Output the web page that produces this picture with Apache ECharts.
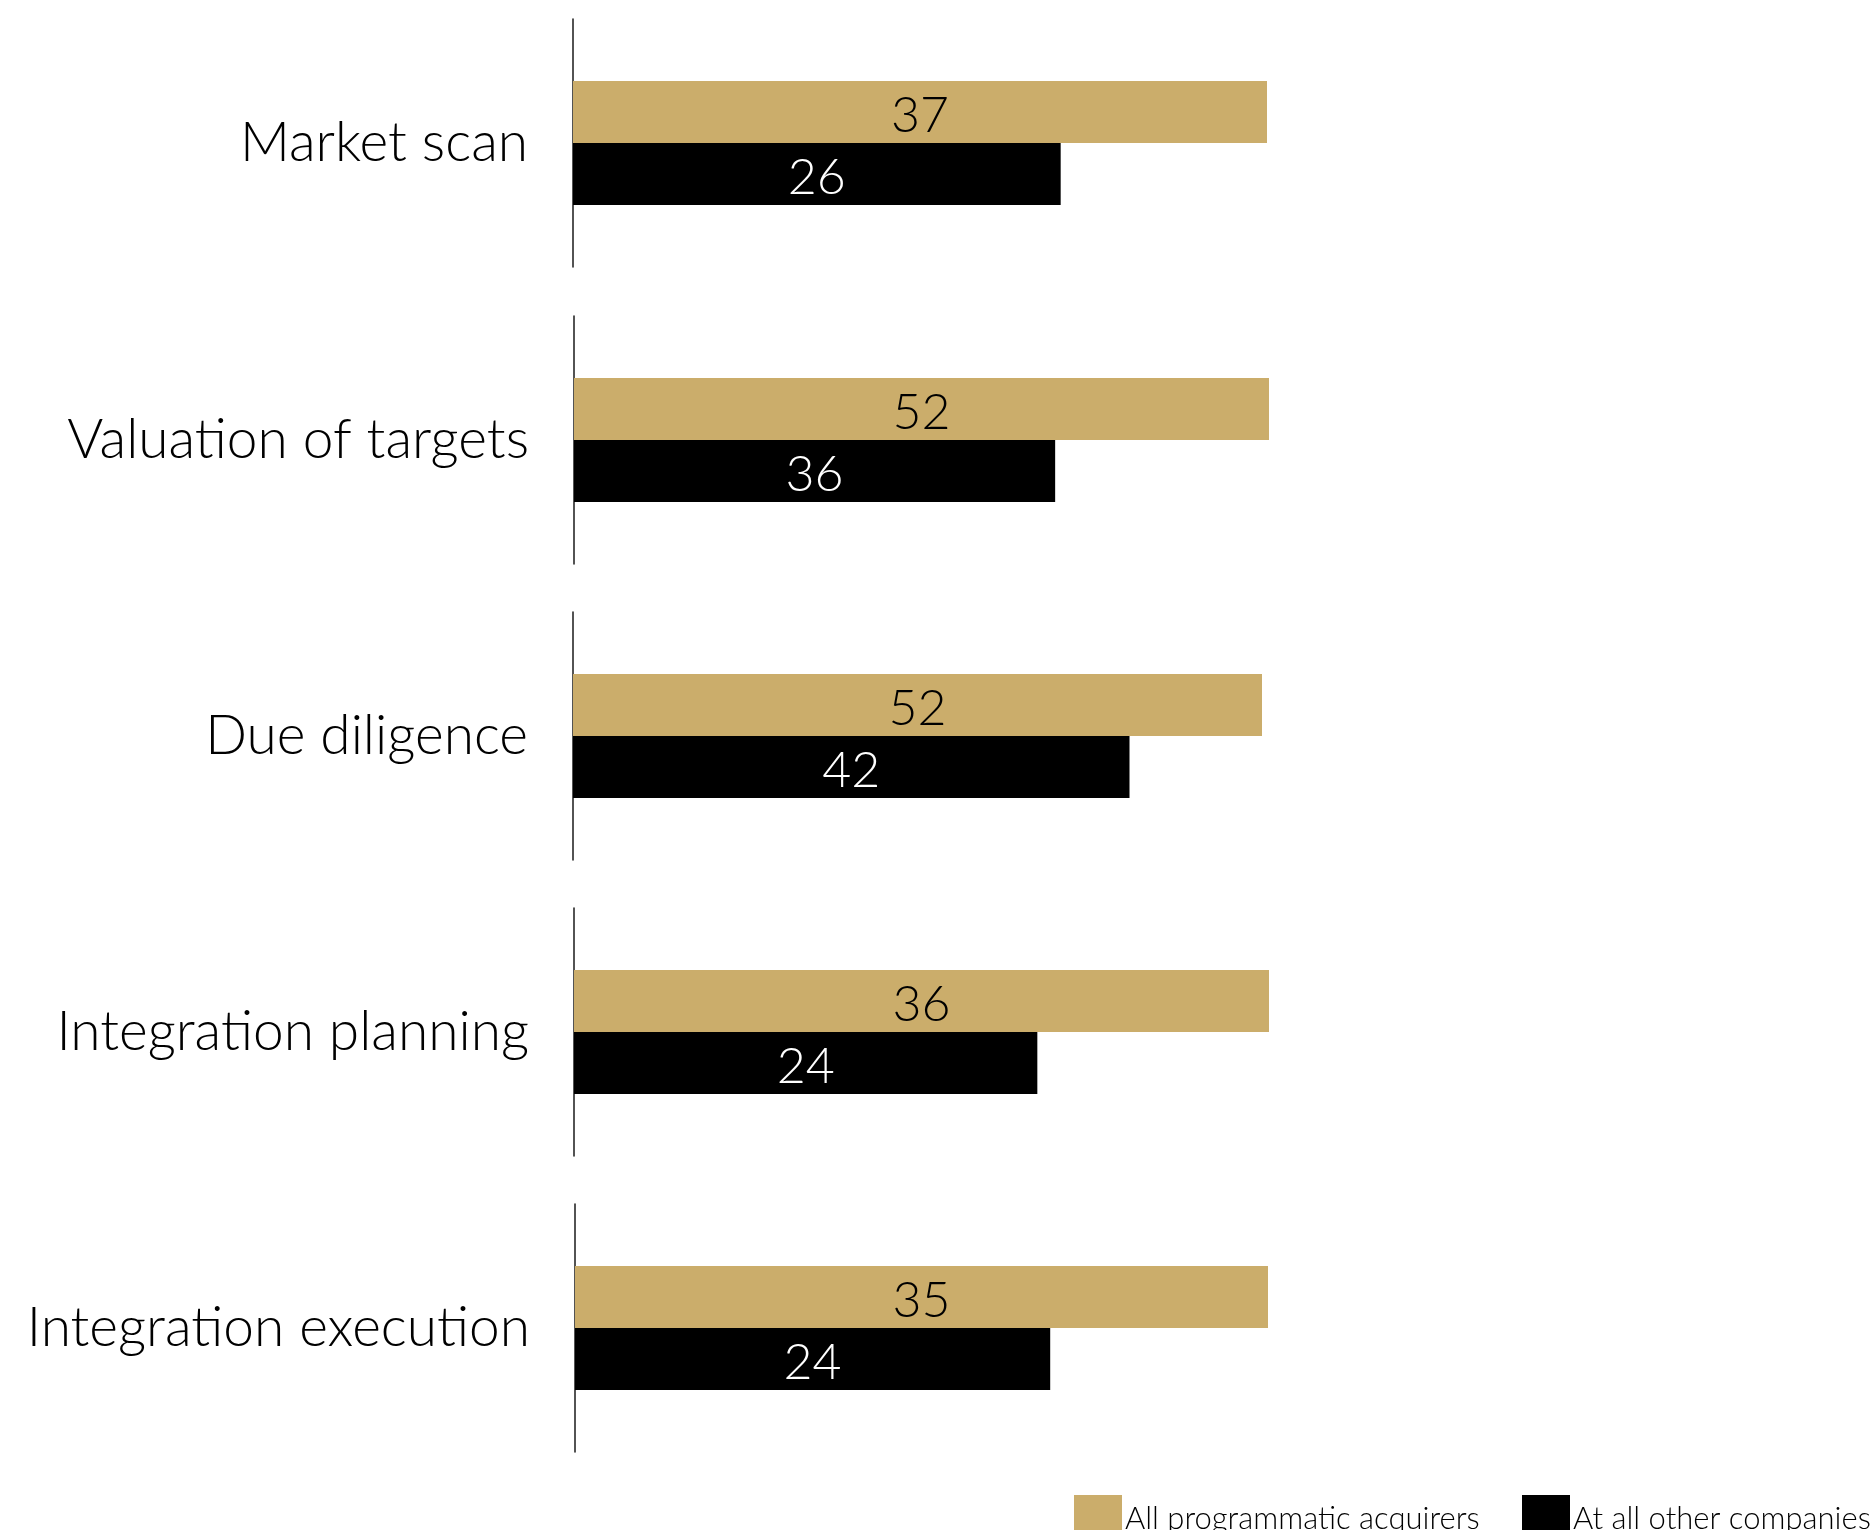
<!DOCTYPE html>
<html>
<head>
<meta charset="utf-8">
<script src="https://cdn.jsdelivr.net/npm/echarts@6/dist/echarts.min.js"></script>
<style>
  html, body { margin: 0; padding: 0; background: #fff; }
  #chart { width: 1870px; height: 1530px; }
</style>
</head>
<body>
<div id="chart"></div>
<script>
// M&A capability ratings: programmatic acquirers vs. all other companies
const categories = ['Market scan', 'Valuation of targets', 'Due diligence', 'Integration planning', 'Integration execution'];
const programmatic = [37, 52, 52, 36, 35];
const otherCompanies = [26, 36, 42, 24, 24];
const seriesNames = ['All programmatic acquirers', 'At all other companies'];

const GOLD = '#CBAD6B';
const BLACK = '#000000';
const FONT = 'Lato, "Open Sans", sans-serif';
const WEIGHT = 300;

// One small panel per capability; each panel's scale runs to the programmatic value
const panels = [
  { top: 19,  left: 573, width: 694 },
  { top: 316, left: 574, width: 695 },
  { top: 612, left: 573, width: 689 },
  { top: 908, left: 574, width: 695 },
  { top: 1204, left: 575, width: 693 }
];

const valueLabel = (color) => ({
  show: true, position: 'inside', color: color, fontSize: 50,
  fontWeight: WEIGHT, fontFamily: FONT, offset: [0, 4]
});

const grid = [], xAxis = [], yAxis = [], series = [];
categories.forEach((cat, i) => {
  const p = panels[i];
  grid.push({ left: p.left, top: p.top, width: p.width, height: 248, containLabel: false });
  xAxis.push({
    type: 'value', gridIndex: i, min: 0, max: programmatic[i], show: false
  });
  yAxis.push({
    type: 'category', gridIndex: i, data: [cat], inverse: true,
    axisLine: { show: true, lineStyle: { color: '#1a1a1a', width: 1.5 } },
    axisTick: { show: false },
    splitLine: { show: false },
    axisLabel: { color: '#000', fontSize: 55, fontWeight: WEIGHT, fontFamily: FONT, margin: 45 }
  });
  series.push({
    name: seriesNames[0], type: 'bar', xAxisIndex: i, yAxisIndex: i,
    data: [programmatic[i]], barWidth: 62, barGap: '0%',
    itemStyle: { color: GOLD },
    label: valueLabel('#000'),
    animation: false
  });
  series.push({
    name: seriesNames[1], type: 'bar', xAxisIndex: i, yAxisIndex: i,
    data: [otherCompanies[i]], barWidth: 62, barGap: '0%',
    itemStyle: { color: BLACK },
    label: valueLabel('#fff'),
    animation: false
  });
});

// Legend entries sit side by side at the bottom edge
const legendBase = {
  top: 1495, icon: 'rect', itemWidth: 48, itemHeight: 48, padding: 0,
  textStyle: { color: '#000', fontSize: 31, fontWeight: WEIGHT, fontFamily: FONT, padding: [4, 0, 0, -2] }
};
const legend = [
  Object.assign({}, legendBase, { data: [seriesNames[0]], left: 1074 }),
  Object.assign({}, legendBase, { data: [seriesNames[1]], left: 1522 })
];

const chart = echarts.init(document.getElementById('chart'), null, { renderer: 'canvas' });
chart.setOption({
  backgroundColor: '#fff',
  animation: false,
  grid, xAxis, yAxis, series, legend
});
</script>
</body>
</html>
